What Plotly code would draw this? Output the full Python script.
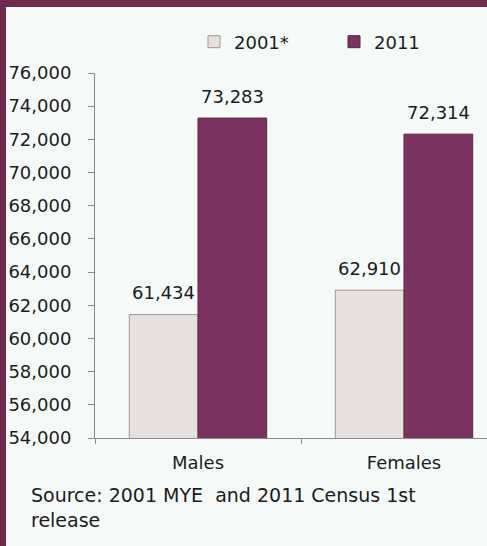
import plotly.graph_objects as go

categories = ["Males", "Females"]
pop_2001 = [61434, 62910]
pop_2011 = [73283, 72314]
y_ticks = list(range(54000, 76001, 2000))

W, H = 487, 546
L, R, T, B = 95, 0, 73, 108
pw, ph = W - L - R, H - T - B
cat_px = 206                      # pixel width of one category slot
bar_px = cat_px * (1 - 0.333) / 2

FRAME = "#6F2B4F"
TXT = "#1c1c1c"
FONT = "DejaVu Sans, Arial, sans-serif"

fig = go.Figure()
fig.add_trace(go.Bar(
    x=categories, y=pop_2001, name="2001*",
    marker=dict(color="#E8E0DE", line=dict(color="#9C9696", width=1)),
))
fig.add_trace(go.Bar(
    x=categories, y=pop_2011, name="2011",
    marker=dict(color="#7B3360", line=dict(color="#5A2344", width=1)),
))

# value labels floating above each bar
for vals, side in ((pop_2001, -1), (pop_2011, 1)):
    for cat, v in zip(categories, vals):
        fig.add_annotation(x=cat, y=v, text=f"{v:,}", showarrow=False,
                           xshift=side * bar_px / 2, yshift=22,
                           yanchor="middle", font=dict(size=18, color=TXT))

# maroon frame (top band + left band), cut off like the reference
fig.add_shape(type="rect", xref="paper", yref="paper", layer="below",
              x0=-L / pw, x1=1.0, y0=1 + (T - 7) / ph, y1=1 + T / ph,
              fillcolor=FRAME, line_width=0)
fig.add_shape(type="rect", xref="paper", yref="paper", layer="below",
              x0=-L / pw, x1=-(L - 6) / pw, y0=-B / ph, y1=1 + T / ph,
              fillcolor=FRAME, line_width=0)

fig.add_annotation(
    text="Source: 2001 MYE  and 2011 Census 1st<br>release",
    xref="paper", yref="paper", x=-(L - 29) / pw, y=-44 / ph,
    xanchor="left", yanchor="top", align="left", showarrow=False,
    font=dict(size=19, color=TXT, family=FONT),
)

fig.update_layout(
    width=W, height=H,
    margin=dict(l=L, r=R, t=T, b=B, pad=0),
    paper_bgcolor="#F5FAF8", plot_bgcolor="#F5FAF8",
    font=dict(family=FONT, color=TXT, size=18),
    barmode="group", bargap=0.333, bargroupgap=0,
    showlegend=True,
    legend=dict(orientation="h", x=(194 - L) / pw, y=1 + 31 / ph,
                xanchor="left", yanchor="middle",
                entrywidth=95, entrywidthmode="pixels",
                font=dict(size=18, color=TXT), bgcolor="rgba(0,0,0,0)"),
    xaxis=dict(range=[-0.5, -0.5 + pw / cat_px], showline=True, linecolor="#8C8C8C",
               linewidth=1, ticks="outside", tickson="boundaries", ticklen=5,
               tickcolor="#8C8C8C", showgrid=False, zeroline=False,
               ticklabelstandoff=8, tickfont=dict(size=18, color=TXT)),
    yaxis=dict(range=[54000, 76000], tickvals=y_ticks, tickformat=",",
               showline=True, linecolor="#8C8C8C", linewidth=1,
               ticks="outside", ticklen=6, tickcolor="#8C8C8C",
               showgrid=False, zeroline=False, ticklabelstandoff=13,
               tickfont=dict(size=18, color=TXT)),
)

fig.write_html("out.html", config={"displayModeBar": False},
               post_script="document.body.style.margin='0';")
